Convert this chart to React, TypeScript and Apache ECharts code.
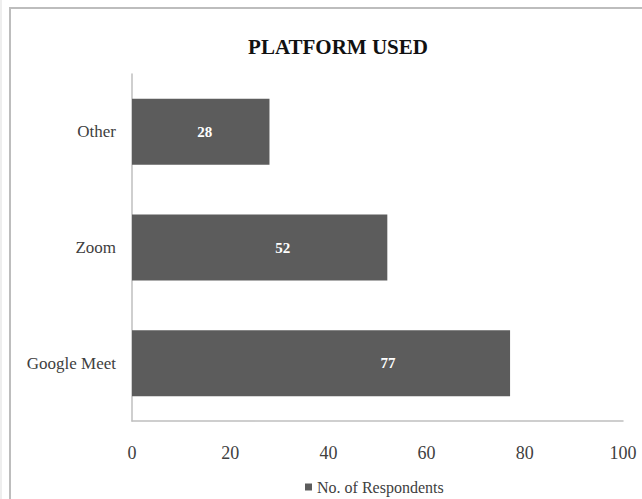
import React, { useEffect, useRef } from "react";
import * as echarts from "echarts";

const categories = ["Google Meet", "Zoom", "Other"];
const respondents = [77, 52, 28];
const xTicks = [0, 20, 40, 60, 80, 100];
const seriesName = "No. of Respondents";
const title = "PLATFORM USED";

export default function App() {
  const ref = useRef<HTMLDivElement>(null);
  useEffect(() => {
    if (!ref.current) return;
    const chart = echarts.init(ref.current, undefined, { renderer: "svg" });
    const serif = "'Liberation Serif', 'Times New Roman', serif";
    const labelShift = [67, 23, 4];
    chart.setOption({
      animation: false,
      backgroundColor: "#ffffff",
      title: {
        text: title,
        left: 333,
        top: 31,
        textAlign: "center",
        textStyle: { fontFamily: serif, fontWeight: "bold", fontSize: 21, color: "#111" },
      },
      graphic: [
        {
          type: "rect",
          shape: { x: 10, y: 8, width: 660, height: 520 },
          style: { fill: "none", stroke: "#bdbdbd", lineWidth: 2 },
          silent: true,
        },
        {
          type: "line",
          shape: { x1: 1, y1: 0, x2: 1, y2: 499 },
          style: { stroke: "#dddddd", lineWidth: 1 },
          silent: true,
        },
      ],
      legend: {
        data: [seriesName],
        left: 305,
        top: 478,
        padding: 0,
        icon: "rect",
        itemWidth: 7,
        itemHeight: 7,
        itemGap: 3,
        textStyle: { fontFamily: serif, fontSize: 16, lineHeight: 18, color: "#404040" },
      },
      grid: { left: 132, right: 19, top: 74, bottom: 78 },
      xAxis: {
        type: "value",
        min: xTicks[0],
        max: xTicks[xTicks.length - 1],
        interval: 20,
        axisLine: { show: true, lineStyle: { color: "#bfbfbf", width: 1.5 } },
        axisTick: { show: false },
        splitLine: { show: false },
        axisLabel: { margin: 23, fontFamily: serif, fontSize: 18, color: "#404040" },
      },
      yAxis: {
        type: "category",
        data: categories,
        axisLine: { show: true, lineStyle: { color: "#bfbfbf", width: 1.5 } },
        axisTick: { show: false },
        axisLabel: { margin: 16, fontFamily: serif, fontSize: 17, color: "#404040" },
      },
      series: [
        {
          name: seriesName,
          type: "bar",
          data: respondents.map((v, i) => ({
            value: v,
            label: { offset: [labelShift[i], 0] },
          })),
          barCategoryGap: "43%",
          itemStyle: { color: "#5c5c5c" },
          label: {
            show: true,
            position: "inside",
            color: "#ffffff",
            fontFamily: serif,
            fontWeight: "bold",
            fontSize: 15,
          },
        },
      ],
    });
    return () => chart.dispose();
  }, []);
  return <div ref={ref} style={{ width: 642, height: 499, position: "absolute", left: 0, top: 0 }} />;
}
